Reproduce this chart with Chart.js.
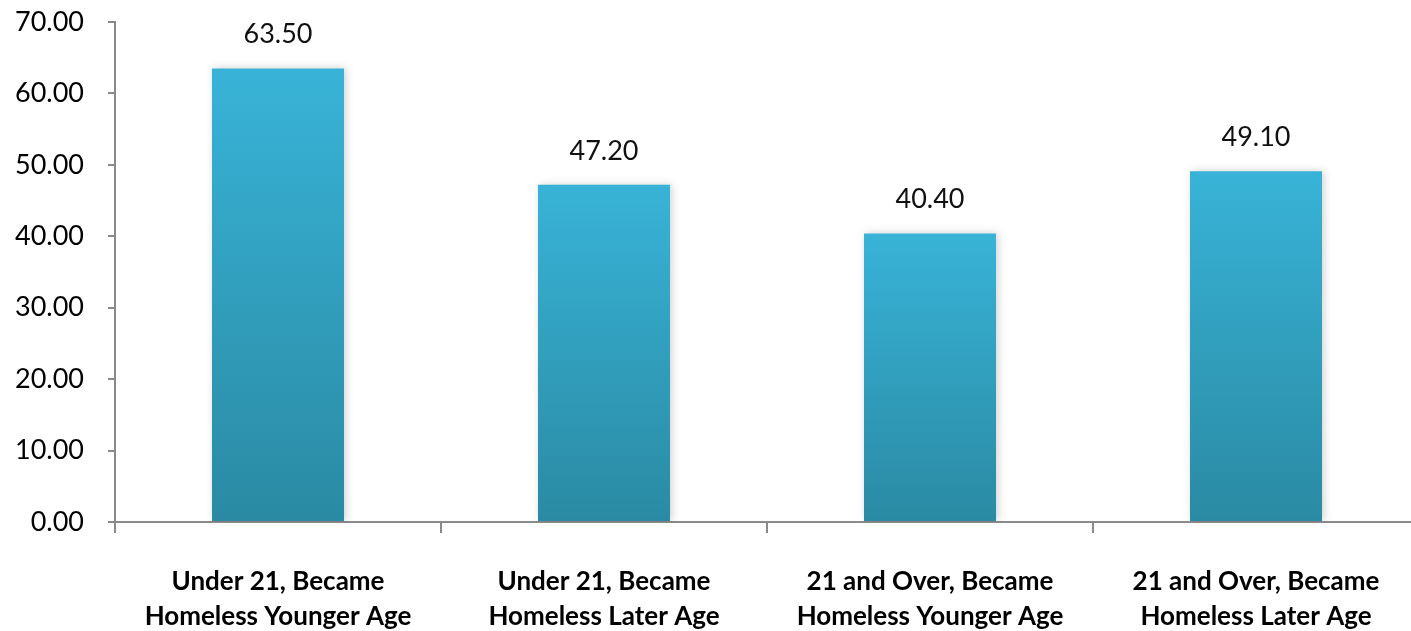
<!DOCTYPE html>
<html>
<head>
<meta charset="utf-8">
<script src="https://cdn.jsdelivr.net/npm/chart.js@4/dist/chart.umd.min.js"></script>
<style>
  html, body { margin: 0; padding: 0; background: #ffffff; overflow: hidden; }
  #wrap { position: relative; width: 1419px; height: 631px; }
</style>
</head>
<body>
<div id="wrap"><canvas id="chart"></canvas></div>
<script>
const categories = [
  ["Under 21, Became", "Homeless Younger Age"],
  ["Under 21, Became", "Homeless Later Age"],
  ["21 and Over, Became", "Homeless Younger Age"],
  ["21 and Over, Became", "Homeless Later Age"]
];
const values = [63.50, 47.20, 40.40, 49.10];
const yTicks = [0, 10, 20, 30, 40, 50, 60, 70];

const AXIS_GREY = '#8a8a8a';
const TOP_BLUE = '#38b3d7';
const BOTTOM_BLUE = '#2a8aa3';

// Vertical gradient for each bar, running from its top down to the baseline
function barFill(ctx) {
  const chart = ctx.chart;
  const y = chart.scales.y;
  if (!chart.chartArea || !y) return TOP_BLUE;
  const top = y.getPixelForValue(values[ctx.dataIndex]);
  const bottom = y.getPixelForValue(0);
  const g = chart.ctx.createLinearGradient(0, top, 0, bottom);
  g.addColorStop(0, TOP_BLUE);
  g.addColorStop(1, BOTTOM_BLUE);
  return g;
}

// Soft shadow behind the bars
const barShadow = {
  id: 'barShadow',
  beforeDatasetDraw(chart) {
    const c = chart.ctx;
    c.save();
    c.shadowColor = 'rgba(0,0,0,0.18)';
    c.shadowBlur = 8;
    c.shadowOffsetX = 2;
    c.shadowOffsetY = 0;
  },
  afterDatasetDraw(chart) {
    chart.ctx.restore();
  }
};

// Value labels above each bar
const valueLabels = {
  id: 'valueLabels',
  afterDatasetsDraw(chart) {
    const c = chart.ctx;
    const meta = chart.getDatasetMeta(0);
    c.save();
    c.font = '27px Lato, "Open Sans", sans-serif';
    c.fillStyle = '#111111';
    c.textAlign = 'center';
    c.textBaseline = 'middle';
    meta.data.forEach((bar, i) => {
      c.fillText(values[i].toFixed(2), bar.x, bar.y - 34);
    });
    c.restore();
  }
};

new Chart(document.getElementById('chart'), {
  type: 'bar',
  data: {
    labels: categories,
    datasets: [{
      data: values,
      backgroundColor: barFill,
      borderWidth: 0,
      barPercentage: 0.405,
      categoryPercentage: 1.0
    }]
  },
  options: {
    responsive: true,
    maintainAspectRatio: false,
    animation: false,
    layout: { padding: { top: 22, right: 0, bottom: 0, left: 0 } },
    plugins: {
      legend: { display: false },
      tooltip: { enabled: false }
    },
    scales: {
      x: {
        grid: {
          display: true,
          offset: true,
          drawOnChartArea: false,
          drawTicks: true,
          tickLength: 11,
          color: AXIS_GREY,
          lineWidth: 2
        },
        border: { display: true, color: AXIS_GREY, width: 2 },
        ticks: {
          color: '#000000',
          font: { family: 'Lato, "Open Sans", sans-serif', size: 26, weight: 'bold', lineHeight: 1.35 },
          padding: 31,
          maxRotation: 0,
          autoSkip: false
        },
        afterFit(scale) { scale.height = 109; }
      },
      y: {
        min: 0,
        max: 70,
        afterBuildTicks(scale) { scale.ticks = yTicks.map(v => ({ value: v })); },
        grid: {
          display: true,
          drawOnChartArea: false,
          drawTicks: true,
          tickLength: 7,
          color: AXIS_GREY,
          lineWidth: 2
        },
        border: { display: true, color: AXIS_GREY, width: 2 },
        ticks: {
          color: '#000000',
          font: { family: 'Lato, "Open Sans", sans-serif', size: 27 },
          padding: 24,
          callback: v => Number(v).toFixed(2)
        },
        afterFit(scale) {
          scale.width = 115;
          scale.paddingTop = 0;
          scale.paddingBottom = 0;
        }
      }
    }
  },
  plugins: [barShadow, valueLabels]
});
</script>
</body>
</html>
